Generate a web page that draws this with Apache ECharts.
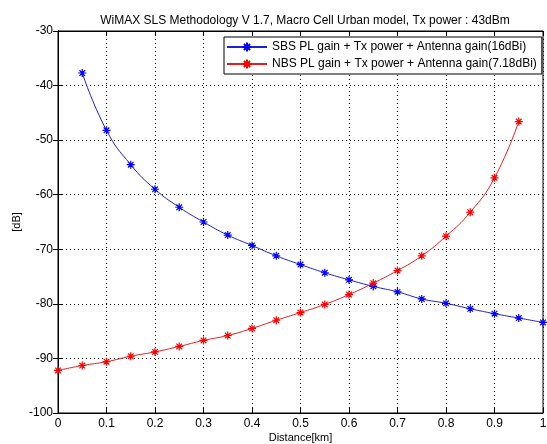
<!DOCTYPE html>
<html>
<head>
<meta charset="utf-8">
<script src="https://cdn.jsdelivr.net/npm/echarts@6/dist/echarts.min.js"></script>
<style>
html,body{margin:0;padding:0;background:#fff;}
#main{width:547px;height:444px;}
</style>
</head>
<body>
<div id="main"></div>
<script>
// 数据
var distance = [0, 0.05, 0.1, 0.15, 0.2, 0.25, 0.3, 0.35, 0.4, 0.45, 0.5, 0.55, 0.6, 0.65, 0.7, 0.75, 0.8, 0.85, 0.9, 0.95, 1];
var sbs = [null, -37.7, -48.2, -54.5, -59.0, -62.3, -65.0, -67.4, -69.3, -71.2, -72.8, -74.3, -75.6, -76.8, -77.8, -79.1, -79.9, -80.9, -81.8, -82.6, -83.4];
var nbs = [-92.2, -91.3, -90.6, -89.6, -88.8, -87.8, -86.7, -85.8, -84.5, -83.0, -81.6, -80.1, -78.3, -76.2, -73.9, -71.2, -67.6, -63.2, -56.9, -46.6, null];
var names = ['SBS PL gain + Tx power + Antenna gain(16dBi)', 'NBS PL gain + Tx power + Antenna gain(7.18dBi)'];

var star = 'path://M0,-5L0,5M-5,0L5,0M-3.5,-3.5L3.5,3.5M-3.5,3.5L3.5,-3.5';
var font = 'Liberation Sans';

function pairs(ys){
	var out = [];
	for (var i = 0; i < distance.length; i++) {
		if (ys[i] !== null) out.push([distance[i], ys[i]]);
	}
	return out;
}

var chart = echarts.init(document.getElementById('main'));
var option = {
	animation: false,
	textStyle: {fontFamily: font},
	title: {
		text: 'WiMAX SLS Methodology V 1.7, Macro Cell Urban model, Tx power : 43dBm',
		left: 300,
		textAlign: 'center',
		top: 10,
		textStyle: {fontSize: 12, fontWeight: 'normal', color: '#000', fontFamily: font}
	},
	legend: {
		orient: 'vertical',
		left: 224,
		top: 37,
		itemWidth: 40,
		itemHeight: 11,
		itemGap: 5,
		padding: [4, 5, 4, 2],
		borderColor: '#000',
		borderWidth: 1,
		backgroundColor: '#fff',
		textStyle: {fontSize: 12, color: '#000', fontFamily: font},
		data: names
	},
	grid: {left: 58, right: 4, top: 31, bottom: 31, outerBoundsMode: 'none', show: true, borderColor: '#000', borderWidth: 1, backgroundColor: '#fff'},
	xAxis: [{
		type: 'value', min: 0, max: 1, interval: 0.1,
		name: 'Distance[km]', nameLocation: 'middle', nameGap: 19, nameMoveOverlap: false,
		nameTextStyle: {fontSize: 11, color: '#000', fontFamily: font},
		axisLine: {lineStyle: {color: '#000'}},
		axisTick: {inside: true, length: 5, lineStyle: {color: '#000'}},
		axisLabel: {fontSize: 12, color: '#000', margin: 5},
		splitLine: {show: true, lineStyle: {color: '#000', type: [1, 3], width: 1}}
	}, {
		type: 'value', min: 0, max: 1, interval: 0.1, position: 'top',
		axisLine: {lineStyle: {color: '#000'}},
		axisTick: {inside: true, length: 5, lineStyle: {color: '#000'}},
		axisLabel: {show: false},
		splitLine: {show: false}
	}],
	yAxis: [{
		type: 'value', min: -100, max: -30, interval: 10,
		name: '[dB]', nameLocation: 'middle', nameGap: 36, nameMoveOverlap: false,
		nameTextStyle: {fontSize: 11, color: '#000', fontFamily: font},
		axisLine: {show: true, lineStyle: {color: '#000'}},
		axisTick: {show: true, inside: true, length: 5, lineStyle: {color: '#000'}},
		axisLabel: {fontSize: 12, color: '#000', margin: 5},
		splitLine: {show: true, lineStyle: {color: '#000', type: [1, 3], width: 1}}
	}, {
		type: 'value', min: -100, max: -30, interval: 10, position: 'right',
		axisLine: {show: true, lineStyle: {color: '#000'}},
		axisTick: {show: true, inside: true, length: 5, lineStyle: {color: '#000'}},
		axisLabel: {show: false},
		splitLine: {show: false}
	}],
	series: [{
		name: names[0],
		type: 'line',
		smooth: true,
		symbol: star,
		symbolSize: 8,
		data: pairs(sbs),
		lineStyle: {color: '#2020d0', width: 1},
		itemStyle: {color: '#0000ff', borderColor: '#0000ff', borderWidth: 1.2}
	}, {
		name: names[1],
		type: 'line',
		smooth: true,
		symbol: star,
		symbolSize: 8,
		data: pairs(nbs),
		lineStyle: {color: '#e02020', width: 1},
		itemStyle: {color: '#ff0000', borderColor: '#ff0000', borderWidth: 1.2}
	}]
};
chart.setOption(option);
</script>
</body>
</html>
